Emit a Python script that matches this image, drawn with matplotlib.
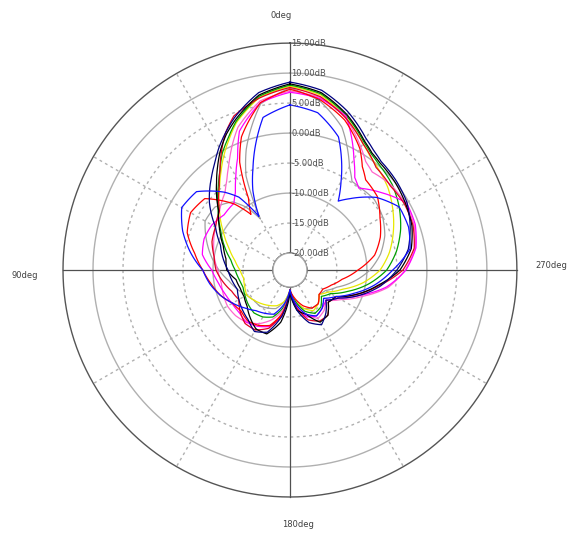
import numpy as np
import matplotlib.pyplot as plt

# Measurement angles (deg, 0 at top, counter-clockwise)
angle_deg = [0, 10, 20, 25, 30, 35, 40, 50, 60, 70, 80, 90, 100, 110, 120, 130, 140, 150, 160, 170,
             180, 190, 200, 210, 220, 230, 240, 250, 260, 270, 280, 290, 300, 310, 320, 325, 330, 340, 350]

# Gain in dB for each trace
black_db = [8.2, 6.8, 3.8, 2.2, 0.3, -1.8, -3.8, -7.3, -9.3, -11.0, -12.0, -12.3, -13.7, -14.0, -14.0, -13.5, -12.5, -11.5, -11.5, -14.0,
            -19.0, -16.0, -15.0, -12.8, -13.0, -14.5, -14.0, -11.0, -8.0, -4.5, -2.3, -1.2, -0.6, 0.0, 0.5, 1.0, 2.0, 4.8, 7.2]
navy_db = [8.5, 7.2, 4.2, 2.5, 0.8, -1.0, -2.5, -5.3, -8.5, -10.5, -11.5, -12.5, -13.0, -13.5, -13.0, -12.5, -12.0, -11.0, -11.8, -15.0,
           -19.5, -16.0, -13.5, -12.3, -13.5, -15.0, -13.5, -10.5, -7.5, -5.0, -2.8, -1.5, -0.3, 0.3, 0.8, 1.5, 2.5, 5.3, 7.6]
green_db = [8.0, 6.6, 3.5, 1.5, -0.3, -2.5, -4.3, -7.2, -9.5, -11.2, -12.8, -13.7, -14.2, -14.5, -14.2, -13.8, -13.5, -13.8, -14.5, -16.5,
            -19.5, -17.5, -15.5, -14.5, -14.8, -16.0, -15.0, -12.5, -9.5, -6.7, -4.8, -3.2, -1.8, -0.6, 0.2, 0.8, 1.8, 4.6, 7.0]
yellow_db = [7.8, 6.4, 3.3, 1.2, -0.8, -2.8, -4.6, -7.5, -10.0, -12.0, -13.5, -14.5, -15.0, -14.8, -14.5, -15.0, -15.5, -16.0, -16.5, -17.5,
             -19.5, -17.5, -16.0, -15.0, -15.5, -16.5, -15.5, -13.5, -10.5, -7.8, -6.0, -4.5, -3.0, -1.5, -0.3, 0.4, 1.5, 4.3, 6.8]
blue_db = [4.7, 3.0, -4.8, -8.2, -12.5, -8.0, -5.9, -2.5, -2.0, -3.8, -6.0, -8.3, -9.3, -10.5, -11.8, -13.0, -14.0, -14.5, -15.0, -17.0,
           -19.5, -17.0, -15.0, -14.0, -14.5, -15.5, -14.0, -11.5, -8.5, -5.7, -2.5, -1.8, -1.8, -4.0, -7.3, -8.8, -5.8, 0.8, 3.8]
red_db = [7.3, 5.5, 0.8, -3.0, -9.0, -11.5, -8.5, -4.3, -3.7, -4.6, -6.7, -8.3, -9.5, -10.5, -11.8, -12.2, -11.8, -12.2, -13.0, -15.5,
          -19.5, -18.0, -16.5, -15.5, -15.5, -16.5, -16.5, -15.5, -14.0, -11.5, -8.5, -6.8, -5.5, -3.8, -3.2, -1.8, 0.5, 3.8, 6.0]
crimson_db = [7.6, 6.3, 4.5, 2.5, 0.0, -2.5, -4.5, -7.5, -8.5, -9.0, -10.0, -10.5, -11.5, -12.5, -13.0, -12.0, -11.2, -11.3, -12.5, -15.5,
              -19.5, -16.5, -14.0, -13.0, -13.0, -14.5, -14.0, -11.0, -7.8, -4.0, -1.8, -1.0, -0.8, -1.0, -0.5, 0.5, 1.5, 4.2, 6.5]
gray_db = [7.5, 5.3, -1.5, -5.5, -13.0, -10.0, -8.0, -6.5, -6.5, -8.0, -9.5, -11.0, -12.5, -13.5, -14.5, -15.0, -15.0, -15.5, -16.0, -17.5,
           -19.5, -17.5, -16.0, -15.5, -15.5, -16.5, -16.0, -14.5, -12.0, -9.5, -7.5, -6.0, -5.0, -4.5, -4.8, -4.8, -3.0, 2.5, 5.8]
magenta_db = [6.8, 5.5, 1.8, -2.2, -4.8, -7.0, -8.3, -8.5, -7.8, -7.6, -8.0, -9.8, -10.7, -11.3, -11.7, -11.8, -11.5, -12.0, -12.8, -15.0,
              -19.5, -16.5, -14.5, -14.0, -14.5, -15.0, -13.5, -10.5, -6.5, -3.5, -1.5, -0.6, -0.4, -2.8, -5.0, -4.0, -1.5, 4.5, 6.2]
pink_db = [7.0, 5.8, 2.5, 0.0, -2.5, -4.5, -6.0, -7.5, -8.5, -9.3, -10.0, -10.8, -11.2, -11.0, -10.8, -11.0, -11.5, -12.5, -14.0, -16.0,
           -19.5, -17.0, -15.0, -13.5, -14.0, -15.0, -13.0, -10.0, -6.2, -3.6, -1.6, -0.8, -0.6, -0.8, -1.5, -0.8, 0.8, 4.2, 6.4]

traces = [
    (gray_db, '#a0a0a0'),
    (yellow_db, '#e8e800'),
    (green_db, '#00a000'),
    (pink_db, '#ff66cc'),
    (magenta_db, '#ff00ff'),
    (crimson_db, '#e00020'),
    (red_db, '#ff0000'),
    (black_db, '#000000'),
    (navy_db, '#000080'),
    (blue_db, '#1010ff'),
]

ring_db = [15, 10, 5, 0, -5, -10, -15, -20]
ring_labels = ['15.00dB', '10.00dB', '5.00dB', '0.00dB', '-5.00dB', '-10.00dB', '-15.00dB', '-20.00dB']
r_min, r_max = -20, 15

fig = plt.figure(figsize=(5.82, 5.34), dpi=100)
ax = fig.add_axes([0.1082, 0.0693, 0.78, 0.850], projection='polar')
ax.set_theta_zero_location('N')
ax.set_theta_direction(1)
ax.set_ylim(r_min, r_max)
ax.set_rorigin(-22.83)
ax.grid(False)
ax.set_xticks([])
ax.set_yticks([])
for sp in ax.spines.values():
    sp.set_visible(False)
ax.patch.set_visible(False)

full = np.linspace(0, 2 * np.pi, 721)

# rings: solid every 10 dB, dashed in between
for r in ring_db:
    if r == r_max:
        ax.plot(full, np.full_like(full, r), color='#555555', lw=1.0, clip_on=False)
    elif r % 10 == 0:
        ax.plot(full, np.full_like(full, r), color='#b0b0b0', lw=1.0, clip_on=False)
    else:
        ax.plot(full, np.full_like(full, r), color='#b0b0b0', lw=1.0, ls=(0, (2, 2.5)), clip_on=False)

# spokes
for a in range(0, 360, 30):
    t = np.deg2rad(a)
    if a % 90 == 0:
        ax.plot([t, t], [r_min, r_max], color='#505050', lw=0.9, clip_on=False)
    else:
        ax.plot([t, t], [r_min, r_max], color='#b0b0b0', lw=1.0, ls=(0, (2, 2.5)), clip_on=False)

# traces, drawn as arcs between samples
theta = np.deg2rad(angle_deg + [360])
for vals, col in traces:
    ln, = ax.plot(theta, vals + [vals[0]], color=col, lw=0.9)
    ln.get_path()._interpolation_steps = 40
    ln.set_data(ln.get_data())

# white hole in the middle
ax.fill(full, np.full_like(full, r_min), facecolor='white', edgecolor='#a8a8a8',
        lw=1.0, zorder=5, clip_on=False)

for r, lbl in zip(ring_db, ring_labels):
    ax.annotate(lbl, xy=(0, r), xytext=(1, 0), textcoords='offset points', zorder=6,
                ha='left', va='center', fontsize=6, color='#505050', annotation_clip=False)

fig.text(0.4828, 0.9719, '0deg', ha='center', va='center', fontsize=6, color='#404040')
fig.text(0.0430, 0.4850, '90deg', ha='center', va='center', fontsize=6, color='#404040')
fig.text(0.9467, 0.5037, '270deg', ha='center', va='center', fontsize=6, color='#404040')
fig.text(0.5120, 0.0169, '180deg', ha='center', va='center', fontsize=6, color='#404040')

fig.savefig('out.png', dpi=100, facecolor='white')
